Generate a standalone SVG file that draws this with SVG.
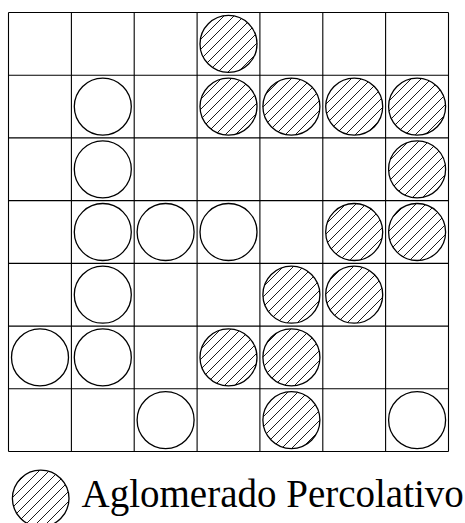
<svg xmlns="http://www.w3.org/2000/svg" width="465" height="523" viewBox="0 0 465 523">
<defs>
<pattern id="hatch" patternUnits="userSpaceOnUse" width="10" height="10">
<path d="M-2,2 L2,-2 M0,10 L10,0 M8,12 L12,8" stroke="#000" stroke-width="0.9"/>
</pattern>
<style>
.grid line{stroke:#000;stroke-width:1.1}
.e{fill:#fff;stroke:#000;stroke-width:1.3}
.h{fill:url(#hatch);stroke:#000;stroke-width:1.3}
</style>
</defs>
<rect width="465" height="523" fill="#fff"/>
<g id="grid" class="grid">
<line x1="8.5" y1="12.5" x2="448.5" y2="12.5"/>
<line x1="8.5" y1="75.2" x2="448.5" y2="75.2"/>
<line x1="8.5" y1="137.9" x2="448.5" y2="137.9"/>
<line x1="8.5" y1="200.6" x2="448.5" y2="200.6"/>
<line x1="8.5" y1="263.4" x2="448.5" y2="263.4"/>
<line x1="8.5" y1="326.1" x2="448.5" y2="326.1"/>
<line x1="8.5" y1="388.8" x2="448.5" y2="388.8"/>
<line x1="8.5" y1="451.5" x2="448.5" y2="451.5"/>
<line x1="8.5" y1="12.5" x2="8.5" y2="451.5"/>
<line x1="71.4" y1="12.5" x2="71.4" y2="451.5"/>
<line x1="134.2" y1="12.5" x2="134.2" y2="451.5"/>
<line x1="197.1" y1="12.5" x2="197.1" y2="451.5"/>
<line x1="259.9" y1="12.5" x2="259.9" y2="451.5"/>
<line x1="322.8" y1="12.5" x2="322.8" y2="451.5"/>
<line x1="385.6" y1="12.5" x2="385.6" y2="451.5"/>
<line x1="448.5" y1="12.5" x2="448.5" y2="451.5"/>
</g>
<g id="sites">
<circle class="h" cx="228.5" cy="43.9" r="28.5"/>
<circle class="e" cx="102.8" cy="106.6" r="28.5"/>
<circle class="h" cx="228.5" cy="106.6" r="28.5"/>
<circle class="h" cx="291.4" cy="106.6" r="28.5"/>
<circle class="h" cx="354.2" cy="106.6" r="28.5"/>
<circle class="h" cx="417.1" cy="106.6" r="28.5"/>
<circle class="e" cx="102.8" cy="169.3" r="28.5"/>
<circle class="h" cx="417.1" cy="169.3" r="28.5"/>
<circle class="e" cx="102.8" cy="232" r="28.5"/>
<circle class="e" cx="165.6" cy="232" r="28.5"/>
<circle class="e" cx="228.5" cy="232" r="28.5"/>
<circle class="h" cx="354.2" cy="232" r="28.5"/>
<circle class="h" cx="417.1" cy="232" r="28.5"/>
<circle class="e" cx="102.8" cy="294.7" r="28.5"/>
<circle class="h" cx="291.4" cy="294.7" r="28.5"/>
<circle class="h" cx="354.2" cy="294.7" r="28.5"/>
<circle class="e" cx="40" cy="357.4" r="28.5"/>
<circle class="e" cx="102.8" cy="357.4" r="28.5"/>
<circle class="h" cx="228.5" cy="357.4" r="28.5"/>
<circle class="h" cx="291.4" cy="357.4" r="28.5"/>
<circle class="e" cx="165.6" cy="420.1" r="28.5"/>
<circle class="h" cx="291.4" cy="420.1" r="28.5"/>
<circle class="e" cx="417.1" cy="420.1" r="28.5"/>
</g>
<g id="legend">
<circle class="h" cx="40.7" cy="498.5" r="28.3"/>
<text x="81.5" y="506.7" font-family="Liberation Serif, Times New Roman, serif" font-size="39" fill="#000">Aglomerado Percolativo</text>
</g>
</svg>
